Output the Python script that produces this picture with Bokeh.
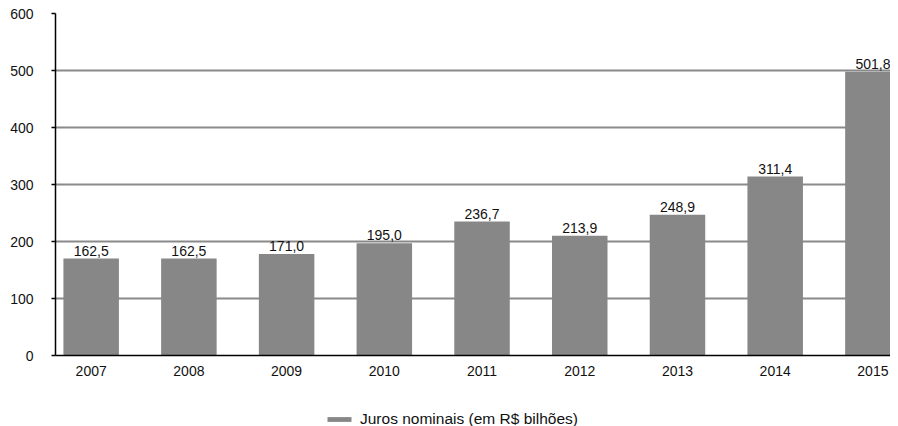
from bokeh.plotting import figure
from bokeh.layouts import column
from bokeh.core.properties import value
from bokeh.models import Range1d, FixedTicker, ColumnDataSource, Legend, LegendItem, LabelSet
from bokeh.embed import file_html
from bokeh.resources import INLINE

years = ["2007", "2008", "2009", "2010", "2011", "2012", "2013", "2014", "2015"]
bar_values = [170, 170, 178, 197, 235, 210, 247, 314, 498]
label_text = ["162,5", "162,5", "171,0", "195,0", "236,7", "213,9", "248,9", "311,4", "501,8"]
y_ticks = [0, 100, 200, 300, 400, 500, 600]
legend_label = "Juros nominais (em R$ bilhões)"

FONT = "Liberation Sans"
BAR_COLOR = "#878787"
idx = list(range(len(years)))
src = ColumnDataSource(dict(x=idx, top=bar_values, lbl=label_text))

p = figure(width=890, height=382, output_backend="svg", toolbar_location=None,
           x_range=Range1d(-0.365, 8.18), y_range=Range1d(0, 600),
           min_border_left=55, min_border_right=0, min_border_top=13, min_border_bottom=27)
p.outline_line_color = None
p.background_fill_color = "white"

r = p.vbar(x="x", top="top", width=0.568, source=src, fill_color=BAR_COLOR, line_color=None)

labels = LabelSet(x="x", y="top", text="lbl", source=src, text_align="center",
                  text_baseline="bottom", y_offset=3, text_font=value(FONT),
                  text_font_size="14px", text_color="#111111")
p.add_layout(labels)

p.xgrid.visible = False
p.ygrid.ticker = FixedTicker(ticks=y_ticks)
p.ygrid.grid_line_color = "#8a8a8a"
p.ygrid.grid_line_width = 2

p.yaxis.ticker = FixedTicker(ticks=y_ticks)
p.yaxis.axis_line_color = "black"
p.yaxis.axis_line_width = 1.5
p.yaxis.major_tick_line_color = "black"
p.yaxis.major_tick_line_width = 1.5
p.yaxis.major_tick_out = 4
p.yaxis.major_tick_in = 0
p.yaxis.minor_tick_line_color = None
p.yaxis.major_label_standoff = 18
p.yaxis.major_label_text_font = FONT
p.yaxis.major_label_text_font_size = "14px"
p.yaxis.major_label_text_color = "#111111"

p.xaxis.ticker = FixedTicker(ticks=idx)
p.xaxis.major_label_overrides = {i: y for i, y in zip(idx, years)}
p.xaxis.axis_line_color = "black"
p.xaxis.axis_line_width = 1.5
p.xaxis.major_tick_line_color = None
p.xaxis.minor_tick_line_color = None
p.xaxis.major_label_standoff = 4
p.xaxis.major_label_text_font = FONT
p.xaxis.major_label_text_font_size = "14px"
p.xaxis.major_label_text_color = "#111111"

# legend strip below the chart (its renderer is hidden; only the legend shows)
lg = figure(width=890, height=44, output_backend="svg", toolbar_location=None,
            x_range=Range1d(0, 1), y_range=Range1d(0, 1),
            x_axis_location=None, y_axis_location=None,
            min_border=0, min_border_left=0, min_border_right=0,
            min_border_top=0, min_border_bottom=0)
lg.outline_line_color = None
lg.grid.visible = False
lr = lg.vbar(x="x", top="top", width=0.568, source=src, fill_color=BAR_COLOR, line_color=None)
lr.visible = False
legend = Legend(items=[LegendItem(label=legend_label, renderers=[lr])],
                location=(269, -2), orientation="horizontal",
                glyph_width=30, glyph_height=6, label_standoff=6,
                padding=0, margin=0, spacing=0, label_height=18,
                border_line_color=None, background_fill_alpha=0,
                inactive_fill_alpha=0,
                label_text_font=FONT, label_text_font_size="15.5px",
                label_text_color="#111111")
lg.add_layout(legend, "center")

open("out.html", "w").write(file_html(column(p, lg, spacing=0), INLINE))
